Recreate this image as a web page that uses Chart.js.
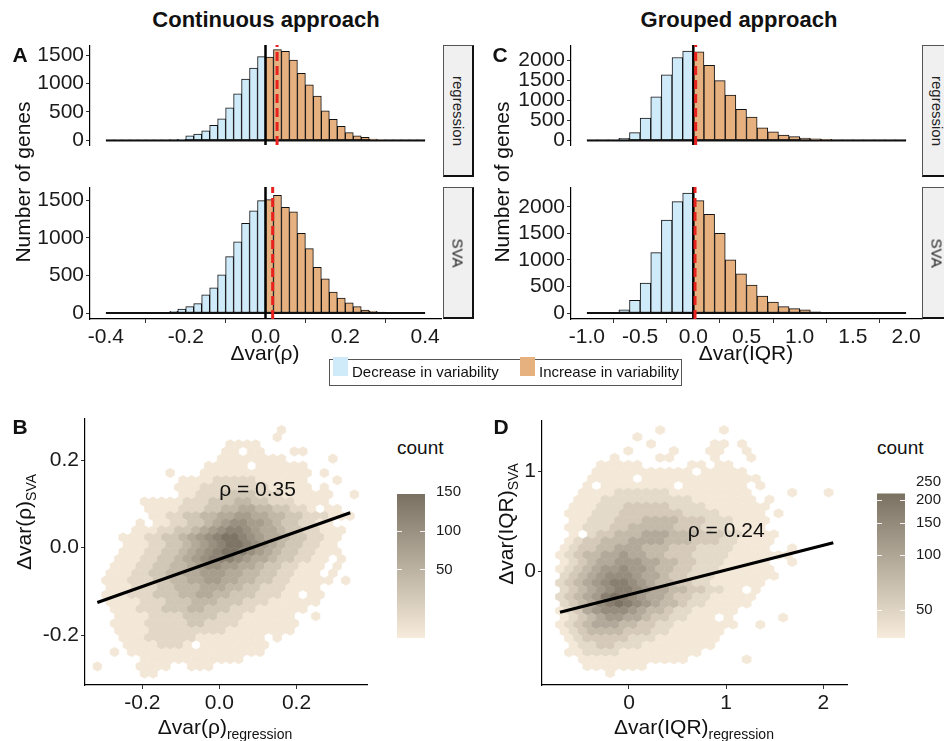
<!DOCTYPE html>
<html>
<head>
<meta charset="utf-8">
<title>Continuous vs grouped approach</title>
<script src="https://cdn.jsdelivr.net/npm/chart.js@4.4.1/dist/chart.umd.min.js"></script>
<style>
  body { margin: 0; background: #fff; }
  #fig { position: relative; width: 944px; height: 741px; overflow: hidden;
         font-family: 'Liberation Sans', Arial, Helvetica, sans-serif; color: #111; }
  #fig canvas { position: absolute; }
  .t { position: absolute; white-space: nowrap; transform: translate(-50%, -50%); line-height: 1; }
  .t.rot { transform: translate(-50%, -50%) rotate(-90deg); }
  .t.xt { transform: translate(-50%, 0); }
  .lbl { font-weight: bold; font-size: 21px; }
  .ttl { font-weight: bold; font-size: 22px; }
  .ax { font-size: 21px; }
  .ax sub { font-size: 14px; vertical-align: -5px; line-height: 0; }
  .strip { position: absolute; background: #f0f0f0; border: 1px solid #555; border-bottom: 2px solid #111; border-right: 2px solid #111; box-sizing: border-box; }
  .strip span { position: absolute; left: 50%; top: 50%; transform: translate(-50%, -50%) rotate(90deg); font-size: 15px; color: #222; white-space: nowrap; }
  .legend { position: absolute; left: 329px; top: 359px; width: 353px; height: 27px; border: 1px solid #555; box-sizing: border-box; }
  .sw { position: absolute; width: 15px; height: 19px; top: 357px; }
  .lt { position: absolute; font-size: 15px; top: 371px; transform: translateY(-50%); white-space: nowrap; }
  .cnt { position: absolute; font-size: 19px; top: 448px; transform: translateY(-50%); }
</style>
</head>
<body>
<div id="fig">
  <canvas id="histRhoReg" width="433" height="132" style="left:20px;top:45px"></canvas>
  <canvas id="histRhoSVA" width="433" height="164" style="left:20px;top:187px"></canvas>
  <canvas id="histIQRReg" width="433" height="132" style="left:501px;top:45px"></canvas>
  <canvas id="histIQRSVA" width="433" height="164" style="left:501px;top:187px"></canvas>
  <canvas id="hexRho" width="355" height="302" style="left:20px;top:418px"></canvas>
  <canvas id="hexIQR" width="373" height="300" style="left:482px;top:420px"></canvas>
  <canvas id="barRho" width="80" height="162" style="left:397px;top:476px"></canvas>
  <canvas id="barIQR" width="80" height="174" style="left:877px;top:464px"></canvas>

  <div class="t ttl" style="left:266px;top:20px">Continuous approach</div>
  <div class="t ttl" style="left:739px;top:20px">Grouped approach</div>
  <div class="t lbl" style="left:20px;top:54px">A</div>
  <div class="t lbl" style="left:500px;top:54px">C</div>
  <div class="t lbl" style="left:20px;top:426px">B</div>
  <div class="t lbl" style="left:501px;top:426px">D</div>

  <div class="t ax rot" style="left:22px;top:182px">Number of genes</div>
  <div class="t ax rot" style="left:501px;top:182px">Number of genes</div>
  <div class="t ax" style="left:265px;top:352px">Δvar(ρ)</div>
  <div class="t ax" style="left:746px;top:352px">Δvar(IQR)</div>

  <div class="strip" style="left:443px;top:45px;width:31px;height:132px"><span>regression</span></div>
  <div class="strip" style="left:443px;top:187px;width:31px;height:132px"><span>SVA</span></div>
  <div class="strip" style="left:922px;top:45px;width:31px;height:132px"><span>regression</span></div>
  <div class="strip" style="left:922px;top:187px;width:31px;height:132px"><span>SVA</span></div>

  <div class="legend"></div>
  <div class="sw" style="left:333px;background:#cfebfa"></div>
  <div class="lt" style="left:352px">Decrease in variability</div>
  <div class="sw" style="left:520px;background:#e6b07f"></div>
  <div class="lt" style="left:539px">Increase in variability</div>

  <div class="t ax xt" style="left:225px;top:716px">Δvar(ρ)<sub>regression</sub></div>
  <div class="t ax rot" style="left:23px;top:522px">Δvar(ρ)<sub>SVA</sub></div>
  <div class="t ax xt" style="left:694px;top:716px">Δvar(IQR)<sub>regression</sub></div>
  <div class="t ax rot" style="left:505px;top:524px">Δvar(IQR)<sub>SVA</sub></div>
  <div class="cnt" style="left:397px">count</div>
  <div class="cnt" style="left:877px">count</div>
</div>

<script>
// ---------- histogram data (counts per bin) ----------
const binStartRho = -0.4, binWidthRho = 0.02;
const countsRhoRegression = [1, 1, 1, 1, 2, 2, 3, 5, 15, 20, 80, 110, 168, 265, 380, 573, 820, 1080, 1270, 1473,
  1465, 1597, 1566, 1411, 1178, 979, 781, 520, 370, 247, 137, 80, 53, 22, 10, 5, 3, 1, 1, 1];
const countsRhoSVA = [2, 2, 1, 2, 3, 3, 5, 10, 22, 53, 84, 124, 243, 335, 507, 750, 948, 1195, 1359, 1495,
  1508, 1566, 1407, 1346, 1059, 856, 609, 454, 278, 199, 137, 84, 40, 22, 12, 6, 2, 1, 1, 1];
const meanRhoRegression = 0.029, meanRhoSVA = 0.018;

const binStartIQR = -1.0, binWidthIQR = 0.1;
const countsIQRRegression = [2, 3, 5, 50, 194, 556, 1088, 1631, 2063, 2225, 2206, 1869, 1488, 1131, 775,
  581, 313, 213, 131, 94, 56, 38, 25, 12, 8, 5, 3, 2, 2, 1];
const countsIQRSVA = [2, 2, 3, 62, 237, 562, 1137, 1750, 2100, 2262, 2119, 1862, 1500, 1000, 737,
  525, 319, 206, 119, 81, 62, 20, 12, 10, 5, 3, 2, 1, 1, 1];
const meanIQRRegression = 0.022, meanIQRSVA = 0.016;

const rhoTicks = [-0.4, -0.2, 0, 0.2, 0.4];
const iqrTicks = [-1, -0.5, 0, 0.5, 1, 1.5, 2];
const rhoCountTicks = [0, 500, 1000, 1500];
const iqrCountTicks = [0, 500, 1000, 1500, 2000];

// ---------- hexbin data: one row per hex row (top to bottom), [first column, levels] ----------
// '.' = empty cell, digit = count level (see level tables)
const hexRowsRho = [
  [21, "1"], [21, "1"], [15, "1111"], [15, "11.11...11"], [14, "11111111.....1"],
  [13, "11111.111111"], [8, "1...1111111111111.1"], [10, "111122222111111...1"],
  [9, "1112222222211111.1"], [10, "112223333222111111..1"], [5, "1111122233344332221111"],
  [6, "11112223344554433221.11"], [6, "112233445566554433222111"], [5, "1.112233456776654332211"],
  [4, "1112233456788765543322111"], [3, "11122334567899876554332211"], [3, "1112233456789987654332211"],
  [3, "11122334567899876543322111"], [2, "1112233456788876554332211.1"], [2, "1112233445677665543322111.1"],
  [1, "1112233445566655443322111.1"], [1, "111222334455665544332211111.1"], [1, "1112223344455544332221111"],
  [1, "11122233344554433322211.11"], [1, "1111222333444333222111111"], [2, "11122233344333222111111"],
  [2, "111122223333222111111..1"], [2, "1111222223322221111111"], [2, "111122222222211111111"],
  [3, "11122222211111111.1"], [3, "11112221.11111111"], [2, "1.1111111111111111"],
  [5, "111111111111"], [0, "1....1111..111"], [5, "11"]
];
const hexLevelCountRho = [0, 2, 12, 28, 45, 62, 80, 100, 120, 145];
const hexGridRho = { x0: -0.3169, dx: 0.02223, y0: 0.2686, dy: 0.016366, offsetRow: 0 };
const hexMaxRho = 150;
const xLimRho = [-0.349, 0.383], yLimRho = [-0.314, 0.296];
const hexTicksRho = [-0.2, 0, 0.2];
const fitRho = [[-0.317, -0.1253], [0.3395, 0.0795]];
const rhoTextRho = { x: 0.099, y: 0.131, text: 'ρ = 0.35' };

const hexRowsIQR = [
  [11, "1......1"], [8, "1"], [10, "1......11.1"], [7, "1....1...11..1"], [6, "1....11....1...1"],
  [4, "11111.....11.11"], [4, "11111111111.11111"], [3, "11111.1111111111111"],
  [3, "1.11111111.1111111.1"], [2, "1111222222111111111....1...1"], [2, "11122222222221111111.1"],
  [1, "1112223333322221111111"], [1, "1112223333333222211111.1"], [1, "1122233344443332221111"],
  [1, "1122233444443332221111"], [1, "1.233444555444333221111"], [1, "12334445555444333221111"],
  [0, "12334455544433322221111..1"], [0, "12344556554433322221111111"], [0, "12345566655443322211111..1"],
  [0, "123456676654433222111111"], [0, "234567776554332221111111"], [0, "23456788765443322111111"],
  [0, "23456788765544332211.1"], [0, "2345689876554332211111"], [0, "234578987654432211111"],
  [0, "12356777654432211111"], [0, "12345665543322111.1.....1"], [0, "12345554433221111111..1"],
  [0, "123444433322111111"], [1, "12333332221111111"], [1, "1223322211111111"],
  [1, "112222111111111"], [2, "111111111111......1"], [3, "1111111"], [5, "1"]
];
const hexLevelCountIQR = [0, 2, 15, 35, 60, 90, 120, 150, 180, 210];
const hexGridIQR = { x0: -0.71, dx: 0.0937, y0: 1.41, dy: 0.0695, offsetRow: 1 };
const hexMaxIQR = 215;
const xLimIQR = [-0.895, 2.243], yLimIQR = [-1.14, 1.51];
const hexXTicksIQR = [0, 1, 2], hexYTicksIQR = [0, 1];
const fitIQR = [[-0.71, -0.413], [2.102, 0.283]];
const rhoTextIQR = { x: 1.0, y: 0.393, text: 'ρ = 0.24' };

// colour bars
const barTicksRho = [50, 100, 150], barLimRho = [-38.4, 155], barRangeRho = [-38.4, 146.7];
const barTicksIQR = [50, 100, 150, 200, 250], barLimIQR = [35.3, 270], barRangeIQR = [35.3, 216];

// ---------- styling ----------
const decreaseColour = '#cfebfa', increaseColour = '#e6b07f';
const hexLow = [247, 236, 219], hexHigh = [122, 113, 98];
const FONT = "'Liberation Sans', Arial, Helvetica, sans-serif";

Chart.defaults.font.family = FONT;
Chart.defaults.color = '#1a1a1a';
Chart.defaults.animation = false;

function hexColour(f) {
  f = Math.max(0, Math.min(1, f));
  return 'rgb(' + hexLow.map((l, i) => Math.round(l + (hexHigh[i] - l) * f)).join(',') + ')';
}
// fill position of a count along the colour bar (bar is brightened towards low counts)
function countShade(c, max) {
  return Math.pow(Math.max(0, (c - 1) / (max - 1)), 0.7);
}

function fixedTicks(values) {
  return scale => { scale.ticks = values.map(v => ({ value: v })); };
}
function boxSize(prop, px) {
  return scale => {
    scale[prop] = px;
    scale.paddingTop = scale.paddingBottom = scale.paddingLeft = scale.paddingRight = 0;
  };
}
function axis(opts, fmt, size) {
  return Object.assign({
    grid: { display: true, drawOnChartArea: false, drawTicks: true, tickLength: 4, tickColor: '#333' },
    border: { display: true, color: '#000', width: 1.2 },
    ticks: { font: { size: size || 21 }, color: '#1a1a1a', padding: 2, autoSkip: false, maxRotation: 0, callback: fmt }
  }, opts);
}

// ---------- histograms ----------
function histogram(id, counts, start, width, mean, allCounts, xTicks, yTicks, showX) {
  const bars = counts.map((n, i) => ({ x: start + width * (i + 0.5), y: n }));
  const end = start + width * counts.length;
  const top = Math.max(...allCounts);
  const yMin = -0.05 * top, yMax = 1.05 * top;
  const pad = 0.05 * (end - start);

  new Chart(document.getElementById(id), {
    type: 'bar',
    data: {
      datasets: [
        { type: 'line', data: [{ x: mean, y: yMin }, { x: mean, y: yMax }], borderColor: '#e8201e',
          borderWidth: 3, borderDash: [9, 5], pointRadius: 0, order: 1 },
        { type: 'line', data: [{ x: 0, y: yMin }, { x: 0, y: yMax }], borderColor: '#000',
          borderWidth: 2.5, pointRadius: 0, order: 2 },
        { type: 'line', data: [{ x: start, y: 0 }, { x: end, y: 0 }], borderColor: '#111',
          borderWidth: 2, pointRadius: 0, order: 3 },
        { type: 'bar', data: bars, order: 4,
          backgroundColor: bars.map(b => b.x < 0 ? decreaseColour : increaseColour),
          borderColor: '#111', borderWidth: 1, borderSkipped: false,
          barPercentage: 1, categoryPercentage: 1 }
      ]
    },
    options: {
      responsive: false, events: [],
      layout: { padding: { right: 12 } },
      plugins: { legend: { display: false }, tooltip: { enabled: false } },
      scales: {
        x: axis({ type: 'linear', min: start - pad, max: end + pad, offset: false, display: showX,
          afterBuildTicks: fixedTicks(xTicks), afterFit: boxSize('height', 32) }, v => v.toFixed(1)),
        y: axis({ min: yMin, max: yMax,
          afterBuildTicks: fixedTicks(yTicks), afterFit: boxSize('width', 70) }, v => String(v))
      }
    }
  });
}

histogram('histRhoReg', countsRhoRegression, binStartRho, binWidthRho, meanRhoRegression,
  countsRhoRegression.concat(countsRhoSVA), rhoTicks, rhoCountTicks, false);
histogram('histRhoSVA', countsRhoSVA, binStartRho, binWidthRho, meanRhoSVA,
  countsRhoRegression.concat(countsRhoSVA), rhoTicks, rhoCountTicks, true);
histogram('histIQRReg', countsIQRRegression, binStartIQR, binWidthIQR, meanIQRRegression,
  countsIQRRegression.concat(countsIQRSVA), iqrTicks, iqrCountTicks, false);
histogram('histIQRSVA', countsIQRSVA, binStartIQR, binWidthIQR, meanIQRSVA,
  countsIQRRegression.concat(countsIQRSVA), iqrTicks, iqrCountTicks, true);

// ---------- hexbin scatter ----------
const hexLayer = {
  id: 'hexLayer',
  beforeDatasetsDraw(chart, args, opts) {
    const { ctx, scales: { x, y } } = chart;
    ctx.save();
    for (const p of chart.data.datasets[0].data) {
      const cx = x.getPixelForValue(p.x), cy = y.getPixelForValue(p.y);
      const hw = Math.abs(x.getPixelForValue(p.x + opts.halfW) - cx);
      const rs = Math.abs(y.getPixelForValue(p.y + opts.rowDy) - cy);
      const a = rs * 0.664, b = rs * 0.332;
      ctx.beginPath();
      ctx.moveTo(cx, cy - a);
      ctx.lineTo(cx + hw, cy - b);
      ctx.lineTo(cx + hw, cy + b);
      ctx.lineTo(cx, cy + a);
      ctx.lineTo(cx - hw, cy + b);
      ctx.lineTo(cx - hw, cy - b);
      ctx.closePath();
      const col = hexColour(countShade(p.c, opts.maxCount));
      ctx.fillStyle = col;
      ctx.strokeStyle = col;
      ctx.lineWidth = 0.6;
      ctx.fill();
      ctx.stroke();
    }
    ctx.restore();
  }
};
const rhoText = {
  id: 'rhoText',
  afterDatasetsDraw(chart, args, opts) {
    const { ctx, scales: { x, y } } = chart;
    ctx.save();
    ctx.font = '21px ' + FONT;
    ctx.fillStyle = '#111';
    ctx.textAlign = 'center';
    ctx.textBaseline = 'middle';
    ctx.fillText(opts.text, x.getPixelForValue(opts.x), y.getPixelForValue(opts.y));
    ctx.restore();
  }
};

function hexPanel(id, rows, levelCount, grid, maxCount, xLim, yLim, xTicks, yTicks, fmt, fit, label, yWidth) {
  const cells = [];
  rows.forEach(([k0, s], r) => {
    const shift = (r % 2 === grid.offsetRow) ? grid.dx / 2 : 0;
    [...s].forEach((ch, i) => {
      if (ch === '.') return;
      cells.push({ x: grid.x0 + (k0 + i) * grid.dx + shift, y: grid.y0 - r * grid.dy, c: levelCount[+ch] });
    });
  });

  new Chart(document.getElementById(id), {
    type: 'scatter',
    data: {
      datasets: [
        { data: cells, pointRadius: 0, pointHoverRadius: 0, order: 2 },
        { type: 'line', data: fit.map(([x, y]) => ({ x, y })), borderColor: '#000', borderWidth: 3.2,
          pointRadius: 0, order: 1 }
      ]
    },
    options: {
      responsive: false, events: [],
      layout: { padding: { right: 8 } },
      plugins: {
        legend: { display: false }, tooltip: { enabled: false },
        hexLayer: { halfW: grid.dx / 2, rowDy: grid.dy, maxCount: maxCount },
        rhoText: label
      },
      scales: {
        x: axis({ type: 'linear', min: xLim[0], max: xLim[1],
          afterBuildTicks: fixedTicks(xTicks), afterFit: boxSize('height', 35) }, fmt),
        y: axis({ type: 'linear', min: yLim[0], max: yLim[1],
          afterBuildTicks: fixedTicks(yTicks), afterFit: boxSize('width', yWidth) }, fmt)
      }
    },
    plugins: [hexLayer, rhoText]
  });
}

hexPanel('hexRho', hexRowsRho, hexLevelCountRho, hexGridRho, hexMaxRho, xLimRho, yLimRho,
  hexTicksRho, hexTicksRho, v => v.toFixed(1), fitRho, rhoTextRho, 65);
hexPanel('hexIQR', hexRowsIQR, hexLevelCountIQR, hexGridIQR, hexMaxIQR, xLimIQR, yLimIQR,
  hexXTicksIQR, hexYTicksIQR, v => String(v), fitIQR, rhoTextIQR, 60);

// ---------- colour bars ----------
const barTickMarks = {
  id: 'barTickMarks',
  afterDatasetsDraw(chart) {
    const { ctx, chartArea: a, scales: { y } } = chart;
    const bar = chart.getDatasetMeta(0).data[0];
    ctx.save();
    ctx.strokeStyle = 'rgba(255,255,255,0.9)';
    ctx.lineWidth = 1;
    for (const t of y.ticks) {
      const py = Math.round(y.getPixelForValue(t.value)) + 0.5;
      if (py < bar.y || py > bar.base) continue;
      ctx.beginPath();
      ctx.moveTo(a.left, py); ctx.lineTo(a.left + 5, py);
      ctx.moveTo(a.right - 5, py); ctx.lineTo(a.right, py);
      ctx.stroke();
    }
    ctx.restore();
  }
};

function colourBar(id, type, lim, range, ticks) {
  new Chart(document.getElementById(id), {
    type: 'bar',
    data: {
      labels: ['count'],
      datasets: [{
        data: [range], borderWidth: 0, barPercentage: 1, categoryPercentage: 1,
        backgroundColor: c => {
          const y = c.chart.scales.y;
          const p0 = y.getPixelForValue(range[0]), p1 = y.getPixelForValue(range[1]);
          if (!isFinite(p0) || !isFinite(p1)) return hexColour(0);
          const g = c.chart.ctx.createLinearGradient(0, p0, 0, p1);
          g.addColorStop(0, hexColour(0));
          g.addColorStop(0.5, hexColour(0.5));
          g.addColorStop(1, hexColour(1));
          return g;
        }
      }]
    },
    options: {
      responsive: false, events: [],
      layout: { padding: { top: 12 } },
      plugins: { legend: { display: false }, tooltip: { enabled: false } },
      scales: {
        x: { display: false },
        y: {
          type: type, position: 'right', min: lim[0], max: lim[1],
          grid: { display: false, drawTicks: false }, border: { display: false },
          ticks: { font: { size: 15 }, color: '#1a1a1a', padding: 11, callback: v => String(v) },
          afterBuildTicks: fixedTicks(ticks), afterFit: boxSize('width', 52)
        }
      }
    },
    plugins: [barTickMarks]
  });
}

colourBar('barRho', 'linear', barLimRho, barRangeRho, barTicksRho);
colourBar('barIQR', 'logarithmic', barLimIQR, barRangeIQR, barTicksIQR);
</script>
</body>
</html>
